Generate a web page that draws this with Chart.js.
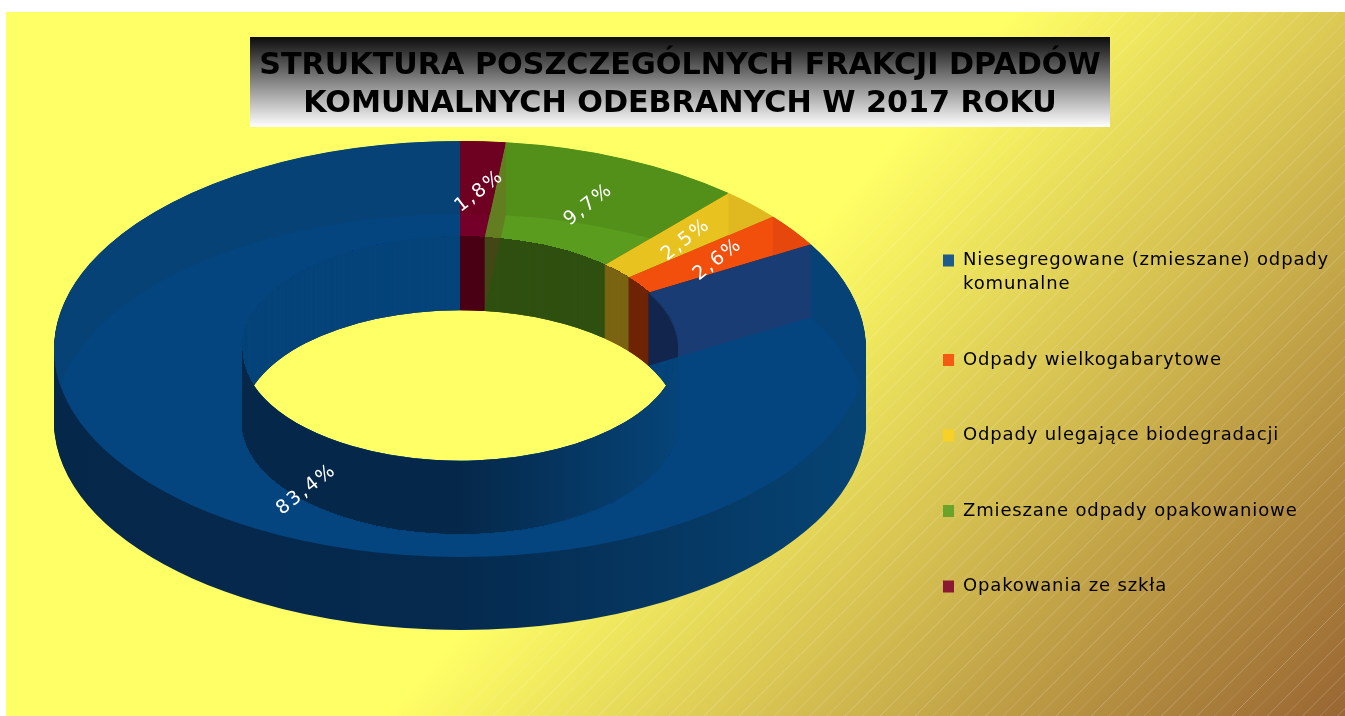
<!DOCTYPE html>
<html lang="pl">
<head>
<meta charset="utf-8">
<title>Struktura frakcji odpadów</title>
<style>html,body{margin:0;padding:0;background:#fff}canvas{display:block}</style>
<script src="https://cdn.jsdelivr.net/npm/chart.js@4/dist/chart.umd.min.js"></script>
</head>
<body>
<canvas id="c" width="1345" height="716"></canvas>
<script>
const titleLines = ['STRUKTURA POSZCZEGÓLNYCH FRAKCJI DPADÓW', 'KOMUNALNYCH ODEBRANYCH W 2017 ROKU'];
const categories = ['Niesegregowane (zmieszane) odpady komunalne', 'Odpady wielkogabarytowe', 'Odpady ulegające biodegradacji', 'Zmieszane odpady opakowaniowe', 'Opakowania ze szkła'];
const legendLines = [['Niesegregowane (zmieszane) odpady', 'komunalne'], ['Odpady wielkogabarytowe'], ['Odpady ulegające biodegradacji'], ['Zmieszane odpady opakowaniowe'], ['Opakowania ze szkła']];
const values = [83.4, 2.6, 2.5, 9.7, 1.8];
const valueLabels = ['83,4%', '2,6%', '2,5%', '9,7%', '1,8%'];
const legendColors = ['#1f5a8c', '#f45a14', '#f9d025', '#6aa32a', '#8a1a30'];
const faceColors = ['#05457f', '#f24f0d', '#e8c21f', '#5a9c1e', '#74002a'];
const faceBackColors = ['#064276', '#e5470c', '#e0b81f', '#52901a', '#6e0022'];
const innerWallColors = ['#05447a', '#6f2505', '#7a6412', '#2f5010', '#4a0015'];

// placement of the tilted ring on the page
const RING = {cx: 460, cy: 349, rx: 406, ry: 208, depth: 73};

function rev(a) { return [...a].reverse(); }

function drawArc(ctx, arc, color) {
  const saved = arc.options;
  arc.options = {backgroundColor: color, borderColor: 'transparent', borderWidth: 0, borderRadius: 0, offset: 0, spacing: 0, circular: true, borderAlign: 'center'};
  arc.draw(ctx);
  arc.options = saved;
}

function project(ctx, arc, dy) {
  ctx.setTransform(1, 0, 0, 1, 0, 0);
  ctx.translate(RING.cx, RING.cy + dy);
  ctx.scale(RING.rx / arc.outerRadius, RING.ry / arc.outerRadius);
  ctx.translate(-arc.x, -arc.y);
}

function ellipsePath(ctx, rx, ry, dy) {
  ctx.moveTo(RING.cx + rx, RING.cy + dy);
  ctx.ellipse(RING.cx, RING.cy + dy, rx, ry, 0, 0, Math.PI * 2);
}

function sweptInnerPath(ctx, rx, ry) {
  ctx.beginPath();
  ellipsePath(ctx, rx, ry, 0);
  ellipsePath(ctx, rx, ry, RING.depth);
  ctx.rect(RING.cx - rx, RING.cy, 2 * rx, RING.depth);
}

const ringPlugin = {
  id: 'ring',
  afterLayout(chart) {
    const t = chart.titleBlock, l = chart.legend;
    t.left = 250; t.right = 1110; t.width = 860; t.top = 37; t.bottom = 127; t.height = 90;
    l.left = 891.5; l.right = 1345; l.width = 453.5; l.top = 200; l.bottom = 716; l.height = 516;
    if (!l.__spaced) {
      l.__spaced = true;
      const base = l.draw;
      l.draw = function () {
        this.ctx.letterSpacing = '0.85px';
        base.call(this);
        this.ctx.letterSpacing = '0px';
      };
    }
  },
  beforeDraw(chart) {
    const ctx = chart.ctx, W = chart.width, H = chart.height;
    ctx.save();
    ctx.fillStyle = '#ffffff';
    ctx.fillRect(0, 0, W, H);
    const g = ctx.createLinearGradient(571, 506, 1108, 982);
    g.addColorStop(0, '#ffff66');
    g.addColorStop(1, '#996633');
    ctx.fillStyle = g;
    ctx.fillRect(6, 12, W - 6, H - 12);
    ctx.beginPath();
    ctx.rect(6, 12, W - 6, H - 12);
    ctx.clip();
    ctx.lineWidth = 1;
    let n = 0;
    for (let s = 12; s < W + H; s += 17.6) {
      const hatch = ctx.createLinearGradient(571, 506, 1108, 982);
      const a = n++ % 2 ? 0.14 : 0.22;
      hatch.addColorStop(0, 'rgba(255,255,255,0)');
      hatch.addColorStop(0.1, 'rgba(255,255,255,' + a + ')');
      hatch.addColorStop(1, 'rgba(255,255,255,' + a + ')');
      ctx.strokeStyle = hatch;
      ctx.beginPath();
      ctx.moveTo(s, 0);
      ctx.lineTo(s - H, H);
      ctx.stroke();
    }
    ctx.restore();
    ctx.save();
    const tg = ctx.createLinearGradient(0, 37, 0, 127);
    tg.addColorStop(0, '#0c0c0c');
    tg.addColorStop(1, '#ffffff');
    ctx.fillStyle = tg;
    ctx.fillRect(250, 37, 860, 90);
    ctx.restore();
  },
  beforeDatasetsDraw(chart) {
    const ctx = chart.ctx, arcs = chart.getDatasetMeta(0).data, a0 = arcs[0];
    const R = a0.outerRadius;
    const wall = ctx.createLinearGradient(a0.x - R, 0, a0.x + R, 0);
    wall.addColorStop(0, '#05274a');
    wall.addColorStop(0.5, '#052a4e');
    wall.addColorStop(1, '#064474');
    ctx.save();
    for (let d = RING.depth; d >= 1; d--) {
      project(ctx, a0, d);
      arcs.forEach((arc, i) => drawArc(ctx, arc, i === arcs.length - 1 ? wall : rev(innerWallColors)[i]));
    }
    ctx.setTransform(1, 0, 0, 1, 0, 0);
    ctx.restore();
    ctx.save();
    project(ctx, a0, 0);
  },
  afterDatasetsDraw(chart) {
    const ctx = chart.ctx, arcs = chart.getDatasetMeta(0).data, a0 = arcs[0];
    ctx.restore();
    const blue = arcs[arcs.length - 1], maroon = arcs[0];
    const R = a0.outerRadius, k = a0.innerRadius / R;
    const irx = RING.rx * k, iry = RING.ry * k, D = RING.depth;
    const backFace = rev(faceBackColors), backWall = rev(innerWallColors);

    // outer back wall seen through the top face
    arcs.forEach((arc, i) => {
      const ranges = [[Math.max(arc.startAngle, -Math.PI), Math.min(arc.endAngle, 0)], [Math.max(arc.startAngle, Math.PI), Math.min(arc.endAngle, Math.PI * 2)]];
      ranges.forEach(([s, e]) => {
        if (e <= s) return;
        ctx.save();
        ctx.beginPath();
        ctx.ellipse(RING.cx, RING.cy, RING.rx, RING.ry, 0, s, e);
        ctx.ellipse(RING.cx, RING.cy + D, RING.rx, RING.ry, 0, e, s, true);
        ctx.closePath();
        ctx.clip();
        project(ctx, a0, 0);
        drawArc(ctx, arc, backFace[i]);
        ctx.restore();
      });
    });

    // inner wall, back part
    ctx.save();
    sweptInnerPath(ctx, irx + 0.8, iry + 0.8);
    ctx.clip();
    for (let d = D; d >= 0; d--) {
      project(ctx, a0, d);
      arcs.forEach((arc, i) => drawArc(ctx, arc, backWall[i]));
    }
    ctx.restore();

    // inner wall, front part (lower half only, so no sliver runs along the back edge)
    ctx.save();
    ctx.beginPath();
    ctx.rect(0, RING.cy, chart.width, chart.height - RING.cy);
    ctx.clip();
    sweptInnerPath(ctx, irx, iry);
    ctx.clip();
    ctx.beginPath();
    ctx.rect(0, 0, chart.width, chart.height);
    ellipsePath(ctx, irx, iry, 0);
    ctx.clip('evenodd');
    const front = ctx.createLinearGradient(a0.x - a0.innerRadius, 0, a0.x + a0.innerRadius, 0);
    front.addColorStop(0, '#05274a');
    front.addColorStop(0.5, '#05284a');
    front.addColorStop(1, '#064478');
    for (let d = D; d >= 0; d--) {
      project(ctx, a0, d);
      drawArc(ctx, blue, front);
    }
    ctx.restore();

    // radial cut faces
    const P = (rx, ry, ang, dy) => [RING.cx + rx * Math.cos(ang), RING.cy + ry * Math.sin(ang) + dy];
    const cut = (ang) => {
      const pts = [P(irx, iry, ang, 0), P(RING.rx, RING.ry, ang, 0), P(RING.rx, RING.ry, ang, D), P(irx, iry, ang, D)];
      ctx.beginPath();
      pts.forEach((p, i) => i ? ctx.lineTo(p[0], p[1]) : ctx.moveTo(p[0], p[1]));
      ctx.closePath();
    };
    ctx.save();
    cut(maroon.endAngle);
    ctx.fillStyle = 'rgba(120,50,40,0.28)';
    ctx.fill();
    cut(blue.startAngle);
    ctx.fillStyle = 'rgba(70,40,90,0.30)';
    ctx.fill();
    ctx.clip();
    sweptInnerPath(ctx, irx, iry);
    ctx.fillStyle = 'rgba(15,20,50,0.55)';
    ctx.fill();
    ctx.restore();

    // value labels
    ctx.save();
    ctx.fillStyle = '#ffffff';
    ctx.font = '19px "DejaVu Sans"';
    ctx.letterSpacing = '2px';
    ctx.textAlign = 'center';
    ctx.textBaseline = 'middle';
    const labels = rev(valueLabels);
    arcs.forEach((arc, i) => {
      const ang = (arc.startAngle + arc.endAngle) / 2;
      const m = (1 + k) / 2;
      ctx.save();
      ctx.translate(RING.cx + RING.rx * m * Math.cos(ang) + 2, RING.cy + RING.ry * m * Math.sin(ang) + 2);
      ctx.rotate(-38 * Math.PI / 180);
      ctx.fillText(labels[i], 0, 0);
      ctx.restore();
    });
    ctx.restore();
  }
};

new Chart(document.getElementById('c'), {
  type: 'doughnut',
  data: {
    labels: rev(categories),
    datasets: [{data: rev(values), backgroundColor: rev(faceColors), borderWidth: 0}]
  },
  options: {
    responsive: false,
    animation: false,
    cutout: '53.7%',
    events: [],
    layout: {padding: 0},
    plugins: {
      tooltip: {enabled: false},
      title: {
        display: true,
        text: titleLines,
        color: '#000000',
        padding: {top: 10, bottom: 0},
        font: {family: '"DejaVu Sans"', size: 30.2, weight: 'bold', lineHeight: 1.258}
      },
      legend: {
        display: true,
        position: 'right',
        align: 'start',
        labels: {
          color: '#111111',
          boxWidth: 11,
          boxHeight: 12,
          padding: 51.5,
          font: {family: '"DejaVu Sans"', size: 18, lineHeight: '24px'},
          generateLabels: () => legendLines.map((text, i) => ({text, fillStyle: legendColors[i], strokeStyle: legendColors[i], lineWidth: 0, hidden: false, index: i}))
        }
      }
    }
  },
  plugins: [ringPlugin]
});
</script>
</body>
</html>
